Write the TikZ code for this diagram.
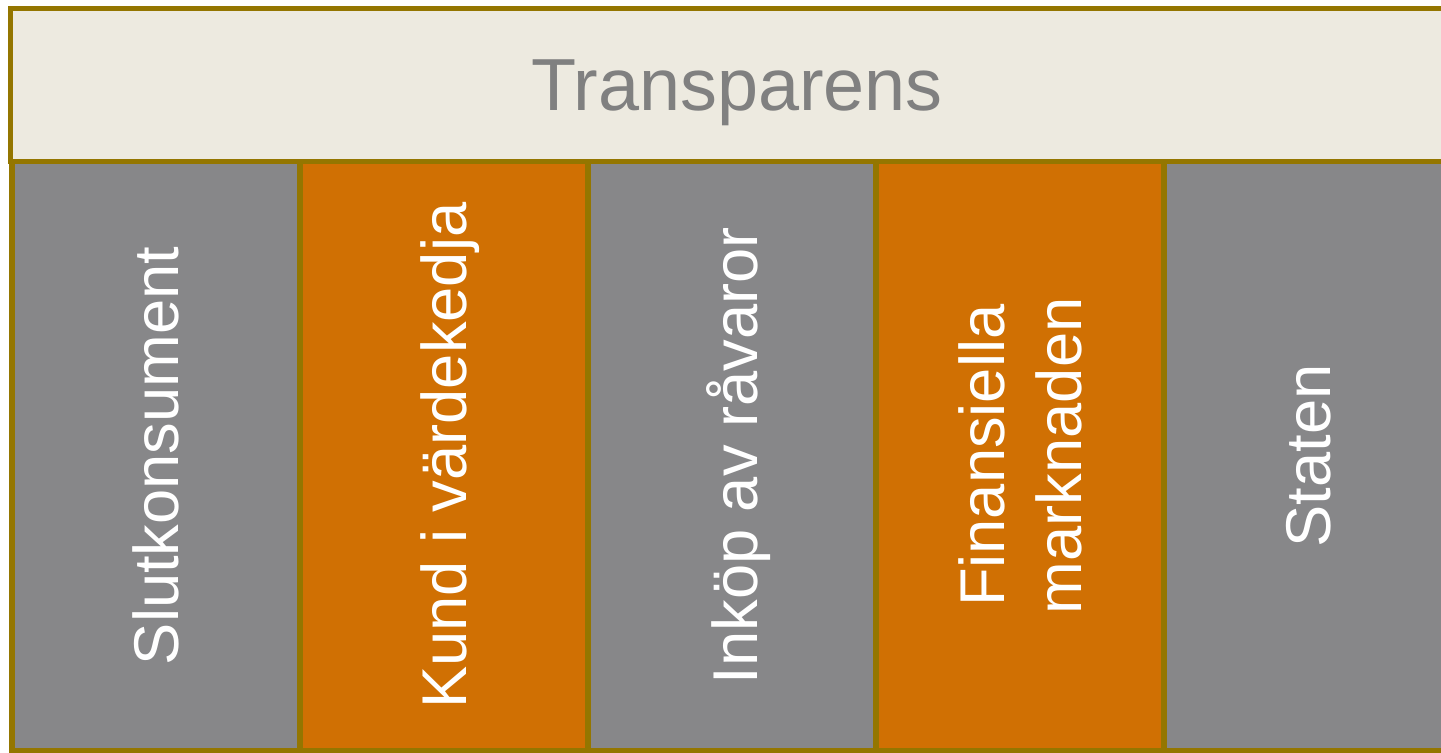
\documentclass[tikz,border=0pt]{standalone}
\usepackage{fontspec}
\setmainfont{Liberation Sans}
\usepackage{tikz}
\usetikzlibrary{calc}

\definecolor{frame}{HTML}{947600}
\definecolor{paper}{HTML}{EDEAE0}
\definecolor{slate}{HTML}{878789}
\definecolor{rust}{HTML}{D07003}
\definecolor{headtext}{HTML}{808080}

\tikzset{
  headbox/.style={draw=frame,fill=paper,line width=0.05cm,inner sep=0,
    minimum width=14.53cm,minimum height=1.525cm,text=headtext,text depth=0pt,
    font=\fontsize{21}{25}\selectfont},
  colbox/.style={draw=frame,line width=0.06cm,inner sep=0,rotate=90,
    minimum width=5.895cm,minimum height=2.88cm,text=white,align=center,
    text depth=0pt,font=\fontsize{18}{21.8}\selectfont}
}

\begin{document}
\begin{tikzpicture}
  % Constants
  \pgfmathsetmacro\w{2.88}
  \pgfmathsetmacro\y{2.9625}
  % Boundary
  \path[use as bounding box] (0,0) rectangle (14.41,7.52);
  % Columns
  \node[colbox,fill=slate] (slut) at (1.56,\y) {Slutkonsument};
  \node[colbox,fill=rust] (kund) at (1.56+\w,\y) {Kund i värdekedja};
  \node[colbox,fill=slate] (inkop) at (1.56+2*\w,\y) {Inköp av råvaror};
  \node[colbox,fill=rust] (finans) at (1.56+3*\w,\y) {Finansiella\\marknaden};
  \node[colbox,fill=slate] (staten) at (1.56+4*\w,\y) {Staten};
  % Header
  \node[headbox] (head) at (7.37,6.6725) {Transparens};
\end{tikzpicture}
\end{document}
